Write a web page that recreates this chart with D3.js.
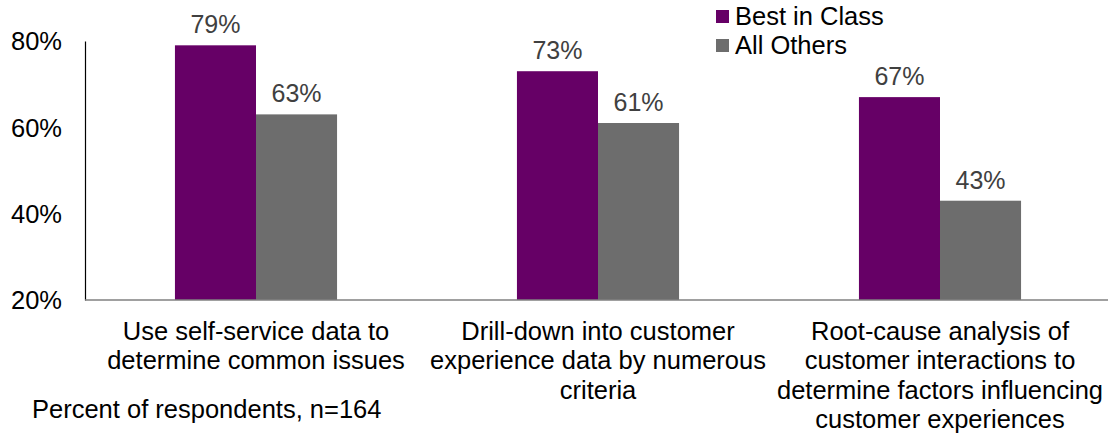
<!DOCTYPE html>
<html>
<head>
<meta charset="utf-8">
<script src="https://cdn.jsdelivr.net/npm/d3@7"></script>
<style>
  body { margin: 0; background: #fff; }
  text { font-family: "Liberation Sans", Arial, sans-serif; }
</style>
</head>
<body>
<svg id="chart" width="1108" height="434"></svg>
<script>
const categories = [
  ["Use self-service data to", "determine common issues"],
  ["Drill-down into customer", "experience data by numerous", "criteria"],
  ["Root-cause analysis of", "customer interactions to", "determine factors influencing", "customer experiences"]
];
const seriesNames = ["Best in Class", "All Others"];
const bestInClass = [79, 73, 67];
const allOthers = [63, 61, 43];
const yTicks = [20, 40, 60, 80];
const colors = ["#660066", "#6d6d6d"];

const svg = d3.select("#chart");
const margin = { top: 41, right: -3, bottom: 134, left: 85 };
const width = 1108 - margin.left - margin.right;
const height = 434 - margin.top - margin.bottom;

const g = svg.append("g").attr("transform", `translate(${margin.left},${margin.top})`);

const x0 = d3.scaleBand().domain(d3.range(categories.length)).range([0, width]);
const x1 = d3.scaleBand().domain(seriesNames).range([x0.bandwidth() * 0.263, x0.bandwidth() * 0.737]);
const y = d3.scaleLinear().domain([20, 80]).range([height, 0]);

const rows = categories.map((c, i) => ({ i, values: [bestInClass[i], allOthers[i]] }));

// bars
const groups = g.selectAll(".grp").data(rows).join("g")
  .attr("transform", d => `translate(${x0(d.i)},0)`);

groups.selectAll("rect").data(d => d.values.map((v, k) => ({ v, k })))
  .join("rect")
  .attr("x", d => x1(seriesNames[d.k]))
  .attr("width", x1.bandwidth())
  .attr("y", d => y(d.v))
  .attr("height", d => height - y(d.v))
  .attr("fill", d => colors[d.k]);

groups.selectAll(".lbl").data(d => d.values.map((v, k) => ({ v, k })))
  .join("text")
  .attr("class", "lbl")
  .attr("x", d => x1(seriesNames[d.k]) + x1.bandwidth() / 2)
  .attr("y", d => y(d.v) - 12)
  .attr("text-anchor", "middle")
  .attr("fill", "#404040")
  .style("font-size", "25px")
  .text(d => d.v + "%");

// y axis
const yAxis = g.append("g").call(d3.axisLeft(y).tickValues(yTicks).tickSize(0).tickFormat(d => d + "%"));
yAxis.select(".domain").attr("stroke", "#000").attr("stroke-width", 1.2);
yAxis.selectAll("text").attr("x", -23).attr("dy", "0.35em").attr("fill", "#000").style("font-size", "25.5px")
  .style("font-family", "Liberation Sans, Arial, sans-serif");

// x axis line
g.append("line").attr("x1", 0).attr("x2", width).attr("y1", height).attr("y2", height)
  .attr("stroke", "#808080").attr("stroke-width", 1.5);

// category labels
groups.append("text")
  .attr("text-anchor", "middle")
  .attr("fill", "#000")
  .style("font-size", "25.5px")
  .selectAll("tspan").data(d => categories[d.i]).join("tspan")
  .attr("x", x0.bandwidth() / 2)
  .attr("y", (d, k) => height + 40 + k * 29.4)
  .text(d => d);

// legend
const legend = svg.append("g").attr("transform", "translate(716,10)");
seriesNames.forEach((name, k) => {
  legend.append("rect").attr("x", 0).attr("y", k * 29).attr("width", 13).attr("height", 13).attr("fill", colors[k]);
  legend.append("text").attr("x", 19).attr("y", k * 29 + 15)
    .attr("fill", "#000").style("font-size", "25.5px").text(name);
});

// note
svg.append("text").attr("x", 32).attr("y", 418).attr("fill", "#000").style("font-size", "25.5px")
  .text("Percent of respondents, n=164");
</script>
</body>
</html>
